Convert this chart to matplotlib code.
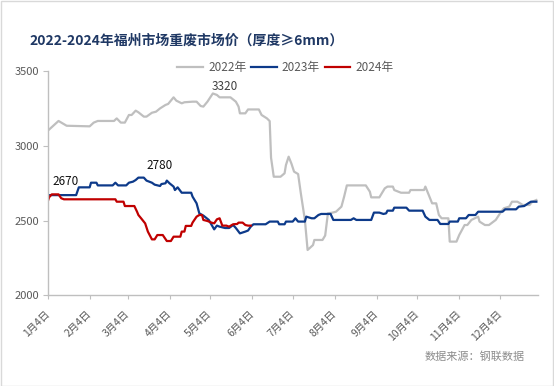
import matplotlib
matplotlib.use("Agg")
import matplotlib.pyplot as plt
from matplotlib.patches import Rectangle

plt.rcParams['font.family'] = ['Noto Sans CJK SC', 'DejaVu Sans']

# x = days after Jan 4
tick_days = [0, 31, 59, 90, 120, 151, 181, 212, 243, 273, 304, 334]
tick_labels = ['1月4日', '2月4日', '3月4日', '4月4日', '5月4日', '6月4日',
               '7月4日', '8月4日', '9月4日', '10月4日', '11月4日', '12月4日']

days_2022 = [0, 8, 14, 31, 34, 37, 49, 51, 54, 57, 60, 62, 65, 67, 71, 73, 77, 80, 83, 87,
             89, 93, 95, 99, 101, 107, 110, 113, 115, 118, 122, 125, 127, 135, 139, 141, 142,
             146, 148, 156, 158, 162, 164, 165, 167, 172, 175, 176, 178, 180, 182, 185, 187,
             190, 192, 196, 197, 203, 205, 207, 210, 213, 217, 219, 221, 235, 238, 239, 245,
             249, 251, 255, 256, 261, 267, 268, 278, 279, 282, 284, 287, 289, 291, 296, 297,
             302, 304, 308, 310, 313, 318, 319, 323, 326, 331, 335, 337, 341, 343, 347, 351,
             356, 358, 361]
price_2022 = [3100, 3166, 3134, 3130, 3155, 3166, 3166, 3183, 3155, 3155, 3206, 3206, 3235,
              3224, 3195, 3195, 3221, 3228, 3250, 3273, 3280, 3324, 3302, 3284, 3291, 3295,
              3295, 3266, 3262, 3295, 3350, 3340, 3324, 3324, 3295, 3262, 3217, 3217, 3243,
              3243, 3206, 3183, 3165, 2920, 2793, 2793, 2816, 2871, 2927, 2882, 2827, 2811,
              2682, 2504, 2303, 2336, 2370, 2370, 2400, 2548, 2552, 2559, 2593, 2660, 2735,
              2735, 2693, 2655, 2655, 2715, 2727, 2727, 2704, 2686, 2686, 2704, 2704, 2727,
              2660, 2615, 2615, 2537, 2515, 2515, 2359, 2359, 2403, 2470, 2470, 2504, 2526,
              2493, 2470, 2470, 2504, 2559, 2582, 2593, 2626, 2626, 2604, 2604, 2626, 2637]

days_2023 = [0, 1, 21, 23, 31, 32, 36, 37, 48, 50, 52, 58, 60, 63, 65, 67, 71, 73, 77, 79,
             83, 84, 87, 88, 90, 93, 94, 96, 99, 106, 107, 110, 112, 115, 119, 123, 125, 127,
             131, 134, 137, 139, 142, 146, 148, 150, 152, 161, 164, 170, 171, 175, 176, 181,
             183, 185, 190, 191, 195, 197, 200, 202, 209, 211, 224, 226, 228, 239, 241, 245,
             248, 250, 251, 255, 256, 265, 267, 277, 279, 282, 288, 290, 296, 297, 303, 304,
             309, 311, 316, 318, 336, 338, 346, 348, 352, 355, 357, 361]
price_2023 = [2640, 2670, 2670, 2722, 2722, 2753, 2753, 2735, 2735, 2753, 2735, 2735, 2753,
              2760, 2771, 2787, 2787, 2767, 2753, 2740, 2731, 2744, 2749, 2767, 2749, 2727,
              2704, 2722, 2686, 2686, 2660, 2615, 2548, 2533, 2504, 2441, 2466, 2459, 2450,
              2450, 2470, 2450, 2414, 2426, 2433, 2459, 2475, 2475, 2493, 2493, 2475, 2475,
              2493, 2493, 2515, 2493, 2493, 2526, 2515, 2515, 2537, 2544, 2544, 2504, 2504,
              2515, 2504, 2504, 2553, 2553, 2544, 2548, 2566, 2566, 2586, 2586, 2566, 2566,
              2526, 2504, 2504, 2477, 2477, 2493, 2493, 2515, 2515, 2537, 2537, 2559, 2559,
              2575, 2575, 2593, 2597, 2615, 2626, 2626]

days_2024 = [0, 1, 3, 8, 10, 12, 50, 51, 56, 57, 64, 66, 67, 69, 72, 74, 77, 79, 81, 85, 88,
             91, 93, 98, 99, 101, 102, 106, 107, 110, 112, 114, 115, 118, 121, 123, 125, 127,
             129, 132, 134, 137, 140, 141, 144, 146, 148, 150]
price_2024 = [2626, 2655, 2675, 2675, 2649, 2642, 2642, 2626, 2626, 2597, 2597, 2559, 2537,
              2515, 2481, 2426, 2374, 2374, 2403, 2403, 2363, 2363, 2392, 2392, 2426, 2426,
              2464, 2464, 2486, 2526, 2537, 2537, 2504, 2497, 2486, 2481, 2508, 2515, 2466,
              2466, 2459, 2475, 2477, 2486, 2486, 2470, 2466, 2466]

fig = plt.figure(figsize=(5.54, 3.86), dpi=100)
ax = fig.add_axes([0.0861, 0.235, 0.8845, 0.581])

ax.plot(days_2022, price_2022, color='#bfbfbf', lw=1.6, label='2022年')
ax.plot(days_2023, price_2023, color='#0d3a8a', lw=1.6, label='2023年')
ax.plot(days_2024, price_2024, color='#c00000', lw=1.6, label='2024年')

ax.text(130.6, 3396, '3320', ha='center', va='center', fontsize=8.5, color='#404040')
ax.text(83, 2865, '2780', ha='center', va='center', fontsize=8.5, color='#111111')
ax.text(13, 2758, '2670', ha='center', va='center', fontsize=8.5, color='#111111')

ax.set_xlim(0, 362)
ax.set_ylim(2000, 3500)
ax.set_yticks([2000, 2500, 3000, 3500])
ax.set_xticks(tick_days)
ax.set_xticklabels(tick_labels, rotation=45, ha='right', va='center', rotation_mode='anchor')

for s in ['top', 'right']:
    ax.spines[s].set_visible(False)
for s in ['left', 'bottom']:
    ax.spines[s].set_color('#bfbfbf')
    ax.spines[s].set_linewidth(1)
ax.tick_params(axis='y', colors='#bfbfbf', labelcolor='#595959', labelsize=8, length=3.5, pad=2.5)
ax.tick_params(axis='x', colors='#bfbfbf', labelcolor='#595959', labelsize=7.5, length=3, pad=9)

ax.legend(loc='center', bbox_to_anchor=(0.515, 0.826), bbox_transform=fig.transFigure,
          ncol=3, frameon=False, fontsize=8.5, handlelength=2.2, handletextpad=0.4,
          columnspacing=0.4, labelcolor='#595959')

fig.text(0.054, 0.896, '2022-2024年福州市场重废市场价（厚度≥6mm）', ha='left', va='center',
         fontsize=10, fontweight='bold', color='#1f3864')
fig.text(0.947, 0.075, '数据来源：钢联数据', ha='right', va='center', fontsize=8, color='#8c8c8c')

fig.patches.append(Rectangle((0.001, 0.001), 0.997, 0.997, transform=fig.transFigure,
                             fill=False, edgecolor='#d9d9d9', lw=1))

fig.savefig('out.png', dpi=100)
